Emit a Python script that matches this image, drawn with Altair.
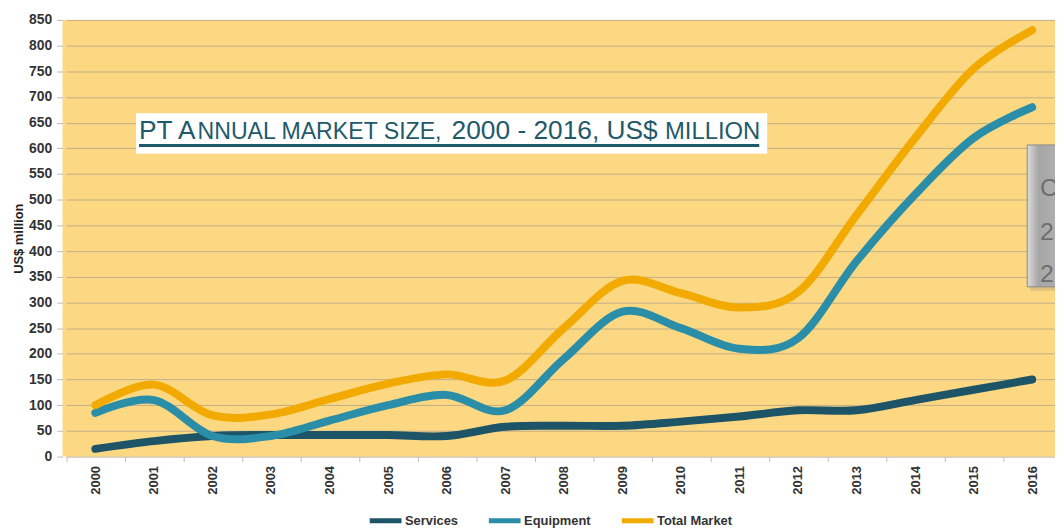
import altair as alt
import pandas as pd

years = [str(y) for y in range(2000, 2017)]
services = [15, 30, 40, 42, 42, 42, 40, 58, 60, 60, 68, 78, 90, 90, 110, 130, 150]
equipment = [85, 110, 40, 40, 70, 100, 120, 90, 190, 282, 250, 210, 230, 380, 510, 620, 680]
total = [100, 140, 80, 82, 112, 142, 160, 148, 250, 342, 318, 290, 320, 470, 620, 755, 830]

series_names = ["Services", "Equipment", "Total Market"]
series_colors = ["#1d5468", "#2a8ea8", "#f2aa00"]

rows = []
for name, vals in zip(series_names, [services, equipment, total]):
    for y, v in zip(years, vals):
        rows.append({"Year": y, "Value": v, "Series": name})
df = pd.DataFrame(rows)

FONT = "Liberation Sans"
TITLE_COLOR = "#1f5a6b"

x_enc = alt.X("Year:N", sort=years,
              scale=alt.Scale(type="band", range=[3.5, 1006.5], paddingInner=0, paddingOuter=0),
              axis=alt.Axis(title=None, labelAngle=270, labelAlign="right", labelBaseline="middle",
                            labelFont=FONT, labelFontSize=13, labelFontWeight="bold", labelColor="#333333",
                            tickBand="extent", tickColor="#bbbbbb", tickSize=5, domain=False,
                            labelPadding=4, grid=False))
y_enc = alt.Y("Value:Q", scale=alt.Scale(domain=[0, 850], nice=False),
              axis=alt.Axis(title="US$ million", values=list(range(0, 851, 50)),
                            labelFont=FONT, labelFontSize=14, labelFontWeight="bold", labelColor="#333333",
                            titleFont=FONT, titleFontSize=13, titleFontWeight="bold", titleColor="#222222",
                            titlePadding=3, tickColor="#bbbbbb", tickSize=6, labelPadding=5,
                            domain=False, gridColor="#c2ae86", gridWidth=1))

lines = alt.Chart(df).mark_line(strokeWidth=8, strokeCap="round", strokeJoin="round",
                                interpolate="cardinal").encode(
    x=x_enc,
    y=y_enc,
    color=alt.Color("Series:N", sort=series_names,
                    scale=alt.Scale(domain=series_names, range=series_colors),
                    legend=alt.Legend(title=None, orient="none", direction="horizontal",
                                      legendX=307, legendY=486, symbolType="stroke",
                                      symbolStrokeWidth=5, symbolSize=1024, columnPadding=20,
                                      labelFont=FONT, labelFontSize=13, labelFontWeight="bold",
                                      labelColor="#333333", labelOffset=1)),
    order=alt.Order("Series:N")
)

box = alt.Chart().mark_rect(fill="white").encode(
    x=alt.value(74), x2=alt.value(710), y=alt.value(94), y2=alt.value(135))
underline = alt.Chart().mark_rule(color=TITLE_COLOR, strokeWidth=3).encode(
    x=alt.value(77), x2=alt.value(702), y=alt.value(126.5))

title_parts = [("PT A", 77, 26.5), ("NNUAL MARKET SIZE,", 136, 23.3),
               ("2000 - 2016, US$", 392, 26.5), ("MILLION", 607, 24)]
title_layers = []
for txt, px, fs in title_parts:
    title_layers.append(alt.Chart().mark_text(text=txt, align="left", baseline="alphabetic",
                                              font=FONT, fontSize=fs, color=TITLE_COLOR).encode(
        x=alt.value(px), y=alt.value(120)))

grey_shadow = alt.Chart().mark_rect(fill="#c9b27a", opacity=0.6).encode(
    x=alt.value(975), x2=alt.value(1010), y=alt.value(130), y2=alt.value(273))
grey_box = alt.Chart().mark_rect(
    fill=alt.Gradient(gradient="linear", x1=0, x2=1, y1=0, y2=0,
                      stops=[alt.GradientStop(color="#dcdcdc", offset=0),
                             alt.GradientStop(color="#a6a6a6", offset=0.3),
                             alt.GradientStop(color="#b3b3b3", offset=1)]),
    stroke="#8a8a8a", strokeWidth=1).encode(
    x=alt.value(972), x2=alt.value(1010), y=alt.value(126), y2=alt.value(269))
grey_texts = []
for txt, py in [("C", 177), ("2", 222), ("2", 264)]:
    grey_texts.append(alt.Chart().mark_text(text=txt, align="left", baseline="alphabetic",
                                            font=FONT, fontSize=25, color="#6e6e6e").encode(
        x=alt.value(985), y=alt.value(py)))

chart = alt.layer(lines, box, underline, *title_layers, grey_shadow, grey_box, *grey_texts).properties(
    width=1000, height=440,
    autosize=alt.AutoSizeParams(type="none"),
    padding={"left": 55, "top": 10, "right": 0, "bottom": 70},
    background="white"
).configure_view(fill="#fcd883", stroke=None)

chart.save("out.html", embed_options={"renderer": "svg", "actions": False})
